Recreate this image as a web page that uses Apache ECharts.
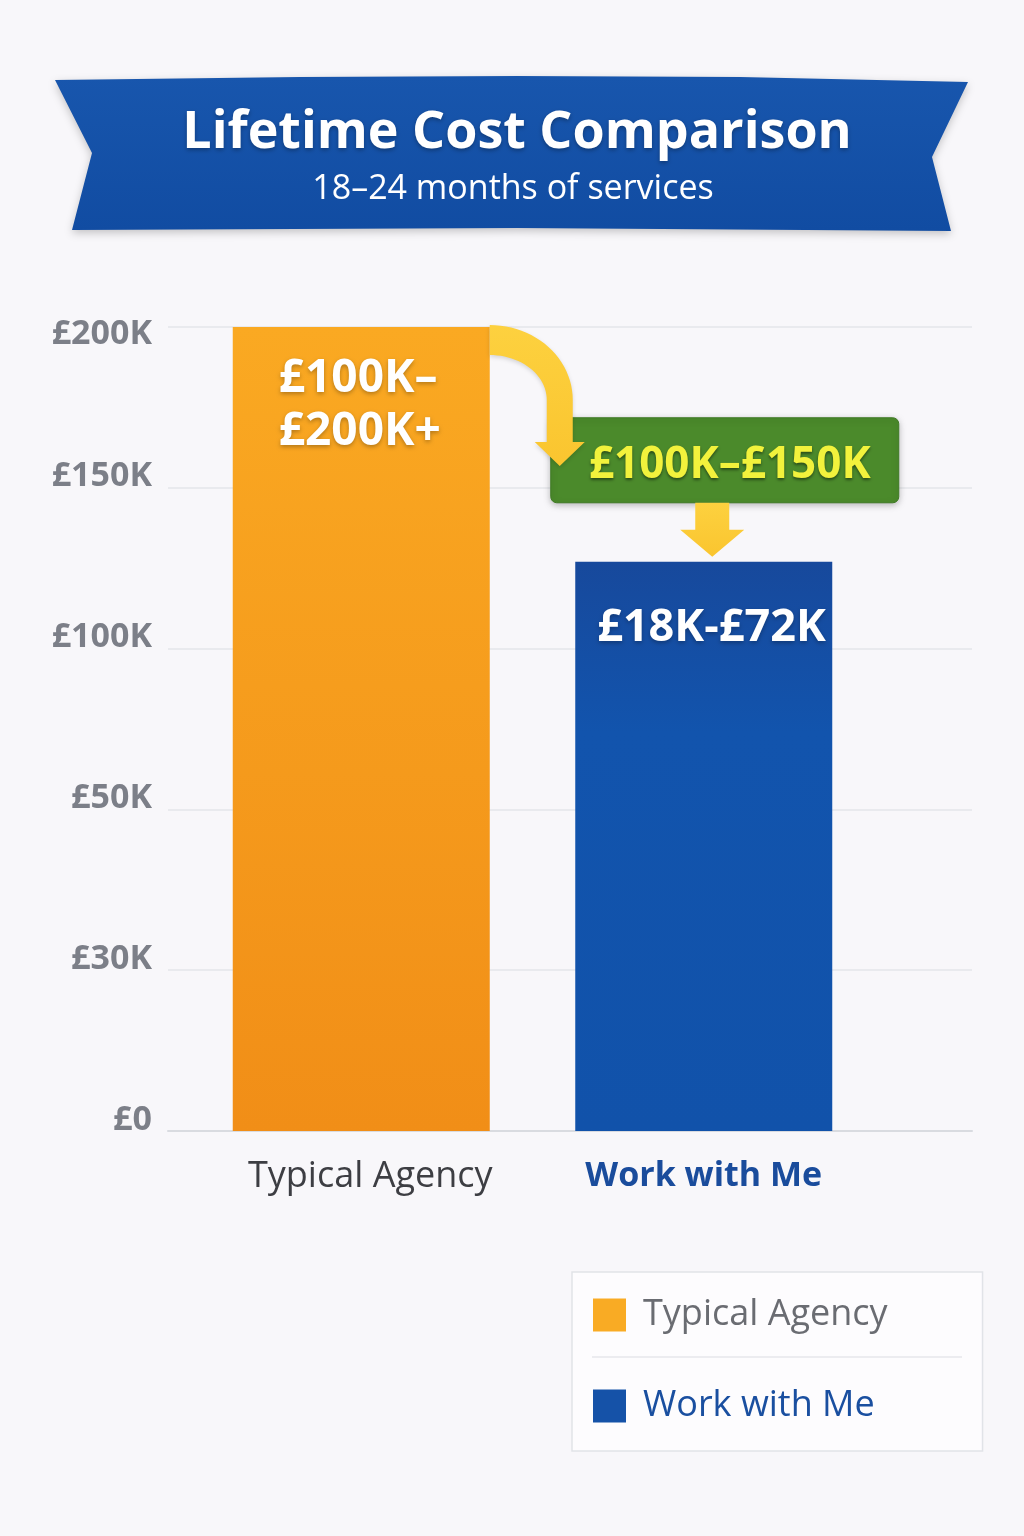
<!DOCTYPE html>
<html><head><meta charset="utf-8">
<script src="https://cdn.jsdelivr.net/npm/echarts@6/dist/echarts.min.js"></script>
<style>html,body{margin:0;padding:0;background:#f8f7fa}#c{width:1024px;height:1536px}</style>
</head><body><div id="c"></div>
<script>
const categories = ['Typical Agency', 'Work with Me'];
const tickValues = [0, 30, 50, 100, 150, 200];
const tickLabels = ['£0', '£30K', '£50K', '£100K', '£150K', '£200K'];
const agencyValues = [200, '-'];
const meValues = ['-', 127];
const barLabels = ['£100K–\n£200K+', '£18K-£72K'];
const savingsLabel = '£100K–£150K';
const titleText = 'Lifetime Cost Comparison';
const subtitleText = '18–24 months of services';

function toIndex(v) {
  if (v === '-') return '-';
  for (let i = 0; i < tickValues.length - 1; i++) {
    if (v <= tickValues[i + 1]) return i + (v - tickValues[i]) / (tickValues[i + 1] - tickValues[i]);
  }
  return tickValues.length - 1;
}

const FONT = "'Open Sans', 'Noto Sans', sans-serif";
const chart = echarts.init(document.getElementById('c'), null, { renderer: 'canvas' });
const shadowTxt = { textShadowColor: 'rgba(0,0,0,0.28)', textShadowBlur: 4, textShadowOffsetY: 2 };
const yLabelBase = { fontSize: 34, fontWeight: 'bold', color: '#7c7f88', fontFamily: FONT };

const option = {
  backgroundColor: '#f8f7fa',
  animation: false,
  textStyle: { fontFamily: FONT },
  grid: [
    { left: 168, right: 52, top: 327, bottom: 405 },
    { left: 190, right: 149, top: 327, bottom: 405 }
  ],
  xAxis: [
    { gridIndex: 0, type: 'value', min: 0, max: 1,
      axisLine: { show: true, lineStyle: { color: '#d9dbe0', width: 2 } },
      axisTick: { show: false }, axisLabel: { show: false }, splitLine: { show: false } },
    { gridIndex: 1, type: 'category', data: categories,
      axisLine: { show: false }, axisTick: { show: false },
      axisLabel: { margin: 28, interval: 0,
        formatter: (v, i) => i === 0 ? '{a|' + v + '}' : '{b|' + v + '}',
        rich: {
          a: { fontSize: 36, color: '#3d3e43', fontFamily: FONT, padding: [0, 0, 0, 18] },
          b: { fontSize: 34, fontWeight: 'bold', color: '#1a4c9c', fontFamily: FONT }
        } } }
  ],
  yAxis: [
    { gridIndex: 0, type: 'value', min: 0, max: tickValues.length - 1, interval: 1,
      axisLine: { show: false }, axisTick: { show: false },
      splitLine: { lineStyle: { color: '#e4e6ea', width: 1.5 } },
      axisLabel: { margin: 16,
        formatter: v => (v === tickValues.length - 1 ? '{t|' : '{n|') + tickLabels[v] + '}',
        rich: {
          t: Object.assign({ padding: [14, 0, 0, 0] }, yLabelBase),
          n: Object.assign({ padding: [0, 0, 22, 0] }, yLabelBase)
        } } },
    { gridIndex: 1, type: 'value', min: 0, max: tickValues.length - 1, interval: 1, show: false,
      splitLine: { show: false } }
  ],
  legend: {
    orient: 'vertical', left: 572, top: 1272, padding: [25, 95, 27, 21],
    itemWidth: 33, itemHeight: 33, itemGap: 55, icon: 'rect', selectedMode: false,
    backgroundColor: '#fdfcfe', borderColor: '#e1e3e8', borderWidth: 1.5,
    textStyle: { fontSize: 36, lineHeight: 36, fontFamily: FONT, padding: [0, 0, 0, 12] },
    data: [
      { name: 'Typical Agency', itemStyle: { color: '#f9ab24' }, textStyle: { color: '#6a6c72' } },
      { name: 'Work with Me', itemStyle: { color: '#1552a8' }, textStyle: { color: '#1a4fa0' } }
    ]
  },
  series: [
    { name: 'Typical Agency', type: 'bar', xAxisIndex: 1, yAxisIndex: 1, stack: 's', barWidth: 257,
      data: agencyValues.map(toIndex),
      itemStyle: { color: new echarts.graphic.LinearGradient(0, 0, 0, 1, [
        { offset: 0, color: '#faa922' }, { offset: 1, color: '#f18e17' }]) },
      label: { show: true, position: [46, 25], align: 'left', verticalAlign: 'top',
        formatter: p => barLabels[p.dataIndex], color: '#ffffff', fontSize: 46, fontWeight: 'bold',
        lineHeight: 53, fontFamily: FONT, ...shadowTxt } },
    { name: 'Work with Me', type: 'bar', xAxisIndex: 1, yAxisIndex: 1, stack: 's', barWidth: 257,
      data: meValues.map(toIndex),
      itemStyle: { color: new echarts.graphic.LinearGradient(0, 0, 0, 1, [
        { offset: 0, color: '#17499c' }, { offset: 0.3, color: '#1254ad' }, { offset: 1, color: '#1152aa' }]) },
      label: { show: true, position: ['53%', 66], align: 'center', verticalAlign: 'middle',
        formatter: p => barLabels[p.dataIndex], color: '#ffffff', fontSize: 45, fontWeight: 'bold',
        fontFamily: FONT, ...shadowTxt } }
  ]
};
chart.setOption(option);

// positions derived from the axes
const p1 = chart.convertToPixel({ xAxisIndex: 1, yAxisIndex: 1 }, [categories[0], toIndex(agencyValues[0])]);
const p2 = chart.convertToPixel({ xAxisIndex: 1, yAxisIndex: 1 }, [categories[1], toIndex(meValues[1])]);
const halfW = 257 / 2;
const b1Right = p1[0] + halfW, b1Top = p1[1];
const b2cx = p2[0], b2Top = p2[1];

// curved arrow polygon
const shaftL = b1Right + 57, shaftR = b1Right + 83, arcCy = b1Top + 73;
const pts = [];
const N = 24;
for (let i = 0; i <= N; i++) {
  const a = -Math.PI / 2 + (Math.PI / 2) * i / N;
  pts.push([b1Right + 83 * Math.cos(a), arcCy + 75 * Math.sin(a)]);
}
const headY = b1Top + 115, tipY = b1Top + 139, scx = (shaftL + shaftR) / 2;
pts.push([shaftR, headY], [scx + 25, headY], [scx, tipY], [scx - 25, headY], [shaftL, headY]);
for (let i = N; i >= 0; i--) {
  const a = -Math.PI / 2 + (Math.PI / 2) * i / N;
  pts.push([b1Right + 57 * Math.cos(a), arcCy + 45 * Math.sin(a)]);
}

const boxL = b2cx - 153, boxR = b2cx + 195, boxT = b2Top - 144, boxB = b2Top - 59;
const dax = b2cx + 8.5;
const yellow = new echarts.graphic.LinearGradient(0, 0, 0, 1, [{ offset: 0, color: '#fdd13f' }, { offset: 1, color: '#fac52f' }]);

chart.setOption({
  graphic: [
    { type: 'polygon', z: 10, shape: { points: [[55, 80], [300, 77], [517, 76], [740, 77], [968, 82], [932, 157], [951, 231], [517, 228], [72, 230], [92, 153]] },
      style: { fill: new echarts.graphic.LinearGradient(0, 0, 0, 1, [{ offset: 0, color: '#1856ad' }, { offset: 1, color: '#114ca2' }]),
        shadowBlur: 8, shadowColor: 'rgba(0,0,0,0.22)', shadowOffsetY: 3 } },
    { type: 'text', z: 11, x: 517, y: 133, style: { text: titleText, fill: '#ffffff', font: 'bold 52px ' + FONT,
      align: 'center', verticalAlign: 'middle', textShadowColor: 'rgba(0,0,0,0.3)', textShadowBlur: 4, textShadowOffsetY: 2 } },
    { type: 'text', z: 11, x: 513, y: 189, style: { text: subtitleText, fill: '#ffffff', font: '34px ' + FONT,
      align: 'center', verticalAlign: 'middle' } },
    // savings box
    { type: 'rect', z: 10, shape: { x: boxL, y: boxT, width: boxR - boxL, height: boxB - boxT, r: 6 },
      style: { fill: '#4b8a2b', stroke: '#3f7a24', lineWidth: 1, shadowBlur: 6, shadowColor: 'rgba(0,0,0,0.25)', shadowOffsetY: 2 } },
    { type: 'text', z: 12, x: (boxL + boxR) / 2 + 5, y: (boxT + boxB) / 2 + 5, style: { text: savingsLabel, fill: '#f2f23c',
      font: 'bold 44px ' + FONT, align: 'center', verticalAlign: 'middle',
      textShadowColor: 'rgba(0,0,0,0.45)', textShadowBlur: 3, textShadowOffsetY: 2 } },
    // curved arrow
    { type: 'polygon', z: 13, shape: { points: pts }, style: { fill: yellow, shadowBlur: 4, shadowColor: 'rgba(0,0,0,0.15)', shadowOffsetY: 2 } },
    // down arrow
    { type: 'polygon', z: 13, shape: { points: [[dax - 17, boxB], [dax + 17, boxB], [dax + 17, boxB + 27], [dax + 32, boxB + 27], [dax, b2Top - 5], [dax - 32, boxB + 27], [dax - 17, boxB + 27]] },
      style: { fill: yellow } },
    // legend divider
    { type: 'line', z: 20, shape: { x1: 592, y1: 1357, x2: 962, y2: 1357 }, style: { stroke: '#e6e7eb', lineWidth: 1.5 } }
  ]
});
</script></body></html>
